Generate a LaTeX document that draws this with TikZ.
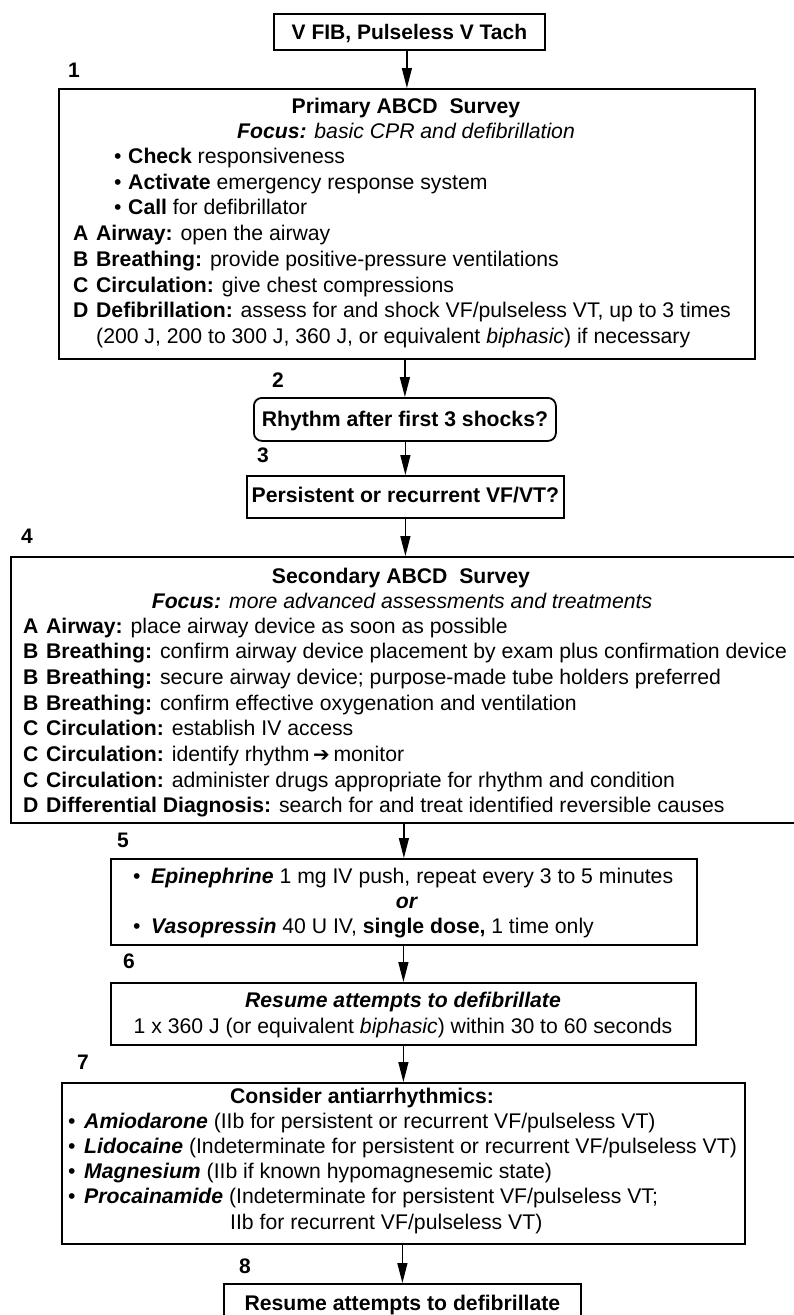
\documentclass[tikz,border=0pt]{standalone}
\usepackage{fontspec}
\setmainfont{Liberation Sans}
\newfontfamily\symfont{DejaVu Sans}
\usetikzlibrary{arrows.meta}
% fixed-width lead-ins for bullets and ABCD letters
\newcommand{\lead}[2]{\makebox[#1][l]{#2}}
\newcommand{\bi}[1]{\textbf{\textit{#1}}}
\begin{document}
\begin{tikzpicture}[x=1pt,y=-1pt,
  box/.style={draw, line width=1.8pt, inner sep=0pt, anchor=north west},
  txt/.style={anchor=base west, inner sep=0pt, font=\fontsize{21.2}{25}\selectfont},
  ctr/.style={anchor=base, inner sep=0pt, font=\fontsize{21.2}{25}\selectfont},
  num/.style={anchor=base west, inner sep=0pt, font=\fontsize{21}{25}\selectfont\bfseries},
  flow/.style={line width=1.3pt, -{Triangle[length=20pt,width=10pt]}}
]
\useasboundingbox[fill=white] (0,0) rectangle (794,1315);

% ---- boxes ----
\node[box, minimum width=271pt, minimum height=36pt] (b0) at (273,13) {};
\node[box, minimum width=696pt, minimum height=270pt] (b1) at (58,88) {};
\node[box, minimum width=302pt, minimum height=43pt, rounded corners=8pt] (b2) at (253,397) {};
\node[box, minimum width=317pt, minimum height=42pt] (b3) at (246,475) {};
\node[box, minimum width=810pt, minimum height=266pt] (b4) at (10,556) {};
\node[box, minimum width=586pt, minimum height=86pt] (b5) at (110,858) {};
\node[box, minimum width=585pt, minimum height=62pt] (b6) at (110,982) {};
\node[box, minimum width=683pt, minimum height=161pt] (b7) at (61,1082) {};
\node[box, minimum width=357pt, minimum height=60pt] (b8) at (223,1283) {};

% ---- connectors ----
\draw[flow] (b1.north |- b0.south) -- (b1.north);
\draw[flow] (b2.north |- b1.south) -- (b2.north);
\draw[flow] (b3.north |- b2.south) -- (b3.north);
\draw[flow] (b3.south) -- (b3.south |- b4.north);
\draw[flow] (b5.north |- b4.south) -- (b5.north);
\draw[flow] (b6.north |- b5.south) -- (b6.north);
\draw[flow] (b7.north |- b6.south) -- (b7.north);
\draw[flow] (b8.north |- b7.south) -- (b8.north);

% ---- step numbers ----
\node[num] (n1) at (68,77) {1};
\node[num] (n2) at (272,387) {2};
\node[num] (n3) at (257,462) {3};
\node[num] (n4) at (21,543) {4};
\node[num] (n5) at (117,847) {5};
\node[num] (n6) at (123,968) {6};
\node[num] (n7) at (77,1069) {7};
\node[num] (n8) at (239,1273) {8};

% ---- start ----
\node[ctr, font=\fontsize{21}{25}\selectfont\bfseries] (t0) at (b0.center |- 0,39) {V FIB, Pulseless V Tach};

% ---- primary survey ----
\node[ctr] (t1a) at (406,113) {\textbf{Primary ABCD\ \ Survey}};
\node[ctr] (t1b) at (406,138) {\bi{Focus:} \textit{basic CPR and defibrillation}};
\node[txt] (t1c) at (114,163) {\lead{14pt}{•}\textbf{Check} responsiveness};
\node[txt] (t1d) at (114,189) {\lead{14pt}{•}\textbf{Activate} emergency response system};
\node[txt] (t1e) at (114,214) {\lead{14pt}{•}\textbf{Call} for defibrillator};
\node[txt] (t1f) at (73,240) {\lead{23pt}{\textbf{A}}\textbf{Airway:} open the airway};
\node[txt] (t1g) at (73,266) {\lead{23pt}{\textbf{B}}\textbf{Breathing:} provide positive-pressure ventilations};
\node[txt] (t1h) at (73,292) {\lead{23pt}{\textbf{C}}\textbf{Circulation:} give chest compressions};
\node[txt] (t1i) at (73,317) {\lead{23pt}{\textbf{D}}\textbf{Defibrillation:} assess for and shock VF/pulseless VT, up to 3 times};
\node[txt] (t1j) at (96,343) {(200 J, 200 to 300 J, 360 J, or equivalent \textit{biphasic}) if necessary};

% ---- rhythm check ----
\node[ctr] (t2) at (b2.center |- 0,426) {\textbf{Rhythm after first 3 shocks?}};
\node[ctr] (t3) at (b3.center |- 0,502) {\textbf{Persistent or recurrent VF/VT?}};

% ---- secondary survey ----
\node[ctr] (t4a) at (401,583) {\textbf{Secondary ABCD\ \ Survey}};
\node[ctr] (t4b) at (402,608) {\bi{Focus:} \textit{more advanced assessments and treatments}};
\node[txt] (t4c) at (23,633) {\lead{23pt}{\textbf{A}}\textbf{Airway:} place airway device as soon as possible};
\node[txt] (t4d) at (23,658) {\lead{23pt}{\textbf{B}}\textbf{Breathing:} confirm airway device placement by exam plus confirmation device};
\node[txt] (t4e) at (23,684) {\lead{23pt}{\textbf{B}}\textbf{Breathing:} secure airway device; purpose-made tube holders preferred};
\node[txt] (t4f) at (23,710) {\lead{23pt}{\textbf{B}}\textbf{Breathing:} confirm effective oxygenation and ventilation};
\node[txt] (t4g) at (23,735) {\lead{23pt}{\textbf{C}}\textbf{Circulation:} establish IV access};
\node[txt] (t4h) at (23,761) {\lead{23pt}{\textbf{C}}\textbf{Circulation:} identify rhythm\,{\symfont\fontsize{20}{25}\selectfont\bfseries ➔}\,monitor};
\node[txt] (t4i) at (23,787) {\lead{23pt}{\textbf{C}}\textbf{Circulation:} administer drugs appropriate for rhythm and condition};
\node[txt] (t4j) at (23,812) {\lead{23pt}{\textbf{D}}\textbf{Differential Diagnosis:} search for and treat identified reversible causes};

% ---- vasopressors ----
\node[txt] (t5a) at (133,883) {\lead{18pt}{•}\bi{Epinephrine} 1 mg IV push, repeat every 3 to 5 minutes};
\node[ctr] (t5b) at (407,908) {\bi{or}};
\node[txt] (t5c) at (133,933) {\lead{18pt}{•}\bi{Vasopressin} 40 U IV, \textbf{single dose,} 1 time only};

% ---- defibrillate ----
\node[ctr] (t6a) at (403,1007) {\bi{Resume attempts to defibrillate}};
\node[ctr] (t6b) at (403,1033) {1 x 360 J (or equivalent \textit{biphasic}) within 30 to 60 seconds};

% ---- antiarrhythmics ----
\node[ctr] (t7a) at (362,1103) {\textbf{Consider antiarrhythmics:}};
\node[txt] (t7b) at (68,1128) {\lead{16pt}{•}\bi{Amiodarone} (IIb for persistent or recurrent VF/pulseless VT)};
\node[txt] (t7c) at (68,1153) {\lead{16pt}{•}\bi{Lidocaine} (Indeterminate for persistent or recurrent VF/pulseless VT)};
\node[txt] (t7d) at (68,1178) {\lead{16pt}{•}\bi{Magnesium} (IIb if known hypomagnesemic state)};
\node[txt] (t7e) at (68,1203) {\lead{16pt}{•}\bi{Procainamide} (Indeterminate for persistent VF/pulseless VT;};
\node[txt] (t7f) at (230,1229) {IIb for recurrent VF/pulseless VT)};

% ---- defibrillate again ----
\node[ctr] (t8) at (b8.center |- 0,1310) {\textbf{Resume attempts to defibrillate}};
\end{tikzpicture}
\end{document}
